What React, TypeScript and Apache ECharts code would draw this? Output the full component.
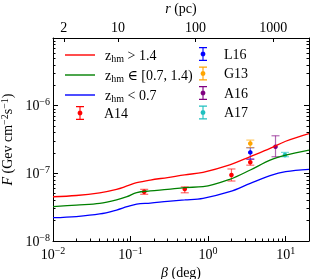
import React, { useEffect, useRef } from 'react';
import * as echarts from 'echarts';

const FONT = '"Liberation Serif", "DejaVu Serif", serif';

// beta (deg) grid shared by the three model curves
const betaGrid = [0.01, 0.02, 0.04, 0.066, 0.09, 0.12, 0.18, 0.3, 0.5, 0.86, 1.9, 3.5, 6.3, 10, 20];
const fHigh = [4.51e-8, 4.7e-8, 5.16e-8, 5.81e-8, 6.5e-8, 7.26e-8, 7.96e-8, 8.67e-8, 9.5e-8, 1.035e-7, 1.33e-7, 1.77e-7, 2.34e-7, 2.98e-7, 3.85e-7];
const fMid = [3.21e-8, 3.4e-8, 3.6e-8, 4.04e-8, 4.51e-8, 5.2e-8, 5.5e-8, 5.8e-8, 6.17e-8, 6.34e-8, 8.15e-8, 1.12e-7, 1.57e-7, 1.86e-7, 2.21e-7];
const fLow = [2.21e-8, 2.3e-8, 2.51e-8, 2.87e-8, 3.21e-8, 3.52e-8, 3.64e-8, 3.85e-8, 4.04e-8, 4.28e-8, 5.35e-8, 7.11e-8, 9.23e-8, 1.057e-7, 1.145e-7];

// measurements: beta, value, lower, upper
const a14Beta = [0.15, 0.5, 2.0, 3.5];
const a14F = [5.34e-8, 5.86e-8, 9.44e-8, 1.46e-7];
const a14Lo = [4.9e-8, 5.16e-8, 7.7e-8, 1.32e-7];
const a14Hi = [5.8e-8, 6.3e-8, 1.16e-7, 1.62e-7];

const l16Beta = [3.5];
const l16F = [2.04e-7];
const l16Lo = [1.62e-7];
const l16Hi = [2.39e-7];

const g13Beta = [3.5];
const g13F = [2.77e-7];
const g13Lo = [2.4e-7];
const g13Hi = [3.1e-7];

const a16Beta = [7.4];
const a16F = [2.47e-7];
const a16Lo = [1.76e-7];
const a16Hi = [3.59e-7];

const a17Beta = [9.8];
const a17F = [1.86e-7];
const a17Lo = [1.76e-7];
const a17Hi = [2.04e-7];

// axes
const betaMin = 0.01;
const betaMax = 20;
const fMin = 1e-8;
const fMax = 1e-5;
const bottomDecades = [-2, -1, 0, 1];
const leftDecades = [-8, -7, -6];
const topTickLabels = [2, 10, 100, 1000];
const PC_PER_DEG = (8300 * Math.PI) / 180;

const lg = Math.log10;

function minorTicks(lo: number, hi: number): number[] {
  const out: number[] = [];
  for (let n = Math.floor(lo); n <= Math.ceil(hi); n++) {
    for (let k = 2; k <= 9; k++) {
      const v = lg(k) + n;
      if (v > lo && v < hi) out.push(v);
    }
  }
  return out;
}

const supFmt = (v: number) => {
  const n = Math.round(v);
  return '10{sup|' + (n < 0 ? '\u2212' + -n : String(n)) + '}';
};

const ERR_ICON =
  'path://M1,0H9V1.2H1Z M4.45,0H5.55V14H4.45Z M1,12.8H9V14H1Z M5,4.6A2.4,2.4 0 1 1 4.999,4.6Z';
const LINE_ICON = 'path://M0,0H30V1.4H0Z';

const makeErr = (name: string, color: string, b: number[], f: number[], lo: number[], hi: number[]) => ({
  name,
  type: 'custom',
  xAxisIndex: 0,
  yAxisIndex: 0,
  itemStyle: { color },
  encode: { x: 0, y: 1 },
  data: b.map((bb, i) => [lg(bb), lg(f[i]), lg(lo[i]), lg(hi[i])]),
  renderItem: (params: any, api: any) => {
    const p = api.coord([api.value(0), api.value(1)]);
    const pl = api.coord([api.value(0), api.value(2)]);
    const ph = api.coord([api.value(0), api.value(3)]);
    const w = 4;
    const st = { stroke: color, lineWidth: 1.2, opacity: 0.6 };
    return {
      type: 'group',
      children: [
        { type: 'line', shape: { x1: p[0], y1: ph[1], x2: p[0], y2: pl[1] }, style: st },
        { type: 'line', shape: { x1: p[0] - w, y1: ph[1], x2: p[0] + w, y2: ph[1] }, style: st },
        { type: 'line', shape: { x1: p[0] - w, y1: pl[1], x2: p[0] + w, y2: pl[1] }, style: st },
        { type: 'circle', shape: { cx: p[0], cy: p[1], r: 2.3 }, style: { fill: color } },
      ],
    };
  },
});

const makeLine = (name: string, color: string, f: number[]) => ({
  name,
  type: 'line',
  xAxisIndex: 0,
  yAxisIndex: 0,
  smooth: 0.35,
  symbol: 'none',
  lineStyle: { color, width: 1.3 },
  itemStyle: { color },
  data: betaGrid.map((b, i) => [lg(b), lg(f[i])]),
});

export default function App() {
  const ref = useRef<HTMLDivElement>(null);
  useEffect(() => {
    if (!ref.current) return;
    const chart = echarts.init(ref.current, null, { renderer: 'svg' });
    const xMin = lg(betaMin);
    const xMax = lg(betaMax);
    const yMin = lg(fMin);
    const yMax = lg(fMax);
    const axisCol = '#000';
    const tickRich = {
      sup: { fontSize: 10, fontFamily: FONT, color: '#000', padding: [0, 0, 8, 0] },
    };
    const legendRich = {
      g: { width: 5, fontFamily: FONT, fontSize: 14, lineHeight: 16 },
      g2: { width: 11, fontFamily: FONT, fontSize: 14, lineHeight: 16 },
      g3: { width: 14, fontFamily: FONT, fontSize: 14, lineHeight: 16 },
      sub: { fontSize: 10, lineHeight: 10, fontFamily: FONT, color: '#000', verticalAlign: 'bottom' },
    };
    const lineNames: Record<string, string> = {
      'zhm>1.4': '{g| }z{sub|hm} > 1.4',
      'zhm∈[0.7,1.4)': '{g| }z{sub|hm} \u2208 [0.7, 1.4)',
      'zhm<0.7': '{g| }z{sub|hm} < 0.7',
    };
    const legendText = { fontFamily: FONT, fontSize: 14, color: '#000', lineHeight: 16 };
    const hidden = { show: false };
    const line = { onZero: false, lineStyle: { color: axisCol, width: 1 } };
    chart.setOption({
      animation: false,
      grid: { left: 53, right: 6, top: 38, bottom: 38, containLabel: false, outerBoundsMode: 'none' },
      xAxis: [
        {
          type: 'value', position: 'bottom', min: xMin, max: xMax,
          axisLine: line,
          axisTick: { inside: true, length: 5, customValues: bottomDecades, lineStyle: { color: axisCol } },
          axisLabel: { customValues: bottomDecades, formatter: supFmt, fontFamily: FONT, fontSize: 14, color: '#000', margin: 4, rich: tickRich },
          splitLine: hidden,
          name: '{it|\u03b2} (deg)', nameLocation: 'middle', nameGap: 17,
          nameTextStyle: { fontFamily: FONT, fontSize: 14, color: '#000', rich: { it: { fontStyle: 'italic', fontFamily: FONT, fontSize: 14, color: '#000' } } },
        },
        {
          type: 'value', position: 'bottom', min: xMin, max: xMax,
          axisLine: { show: false, onZero: false }, axisLabel: hidden, splitLine: hidden,
          axisTick: { inside: true, length: 2.5, customValues: minorTicks(xMin, xMax), lineStyle: { color: axisCol } },
        },
        {
          type: 'value', position: 'top', min: lg(betaMin * PC_PER_DEG), max: lg(betaMax * PC_PER_DEG),
          axisLine: line,
          axisTick: { inside: true, length: 4, customValues: topTickLabels.map(lg), lineStyle: { color: axisCol } },
          axisLabel: { customValues: topTickLabels.map(lg), formatter: (v: number) => String(Math.round(Math.pow(10, v))), fontFamily: FONT, fontSize: 14, color: '#000', margin: 4 },
          splitLine: hidden,
          name: '{it|r} (pc)', nameLocation: 'middle', nameGap: 18,
          nameTextStyle: { fontFamily: FONT, fontSize: 14, color: '#000', rich: { it: { fontStyle: 'italic', fontFamily: FONT, fontSize: 14, color: '#000' } } },
        },
      ],
      yAxis: [
        {
          type: 'value', position: 'left', min: yMin, max: yMax,
          axisLine: { show: true, ...line },
          axisTick: { show: true, inside: true, length: 5, customValues: leftDecades, lineStyle: { color: axisCol } },
          axisLabel: { customValues: leftDecades, formatter: supFmt, fontFamily: FONT, fontSize: 14, color: '#000', margin: 3, rich: tickRich },
          splitLine: hidden,
          name: '{it|F} (Gev cm{sup|\u22122}s{sup|\u22121})', nameLocation: 'middle', nameGap: 24,
          nameTextStyle: {
            fontFamily: FONT, fontSize: 14, color: '#000',
            rich: {
              it: { fontStyle: 'italic', fontFamily: FONT, fontSize: 14, color: '#000' },
              sup: { fontSize: 10, fontFamily: FONT, color: '#000', padding: [0, 0, 6, 0] },
            },
          },
        },
        {
          type: 'value', position: 'left', min: yMin, max: yMax,
          axisLine: { show: false, onZero: false }, axisLabel: hidden, splitLine: hidden,
          axisTick: { show: true, inside: true, length: 2.5, customValues: minorTicks(yMin, yMax), lineStyle: { color: axisCol } },
        },
        {
          type: 'value', position: 'right', min: yMin, max: yMax,
          axisLine: { show: true, ...line },
          axisLabel: hidden, splitLine: hidden,
          axisTick: { show: true, inside: true, length: 5, customValues: leftDecades, lineStyle: { color: axisCol } },
        },
        {
          type: 'value', position: 'right', min: yMin, max: yMax,
          axisLine: { show: false, onZero: false }, axisLabel: hidden, splitLine: hidden,
          axisTick: { show: true, inside: true, length: 2.5, customValues: minorTicks(yMin, yMax), lineStyle: { color: axisCol } },
        },
      ],
      legend: [
        {
          data: Object.keys(lineNames).map((n) => ({ name: n, icon: LINE_ICON })), orient: 'vertical', left: 60, top: 42,
          itemWidth: 30, itemHeight: 14, itemGap: 4,
          formatter: (n: string) => lineNames[n] || n,
          textStyle: { ...legendText, rich: legendRich },
        },
        {
          data: [{ name: 'A14', icon: ERR_ICON }], orient: 'vertical', left: 71, top: 100,
          itemWidth: 10, itemHeight: 14, itemGap: 4,
          formatter: (n: string) => '{g3| }' + n,
          textStyle: { ...legendText, rich: legendRich },
        },
        {
          data: ['L16', 'G13', 'A16', 'A17'].map((n) => ({ name: n, icon: ERR_ICON })),
          orient: 'vertical', left: 194, top: 41,
          itemWidth: 10, itemHeight: 14, itemGap: 3.5,
          formatter: (n: string) => '{g2| }' + n,
          textStyle: { ...legendText, rich: legendRich },
        },
      ],
      series: [
        makeLine('zhm>1.4', '#ff0000', fHigh),
        makeLine('zhm∈[0.7,1.4)', '#008000', fMid),
        makeLine('zhm<0.7', '#0000ff', fLow),
        makeErr('A14', '#ff0000', a14Beta, a14F, a14Lo, a14Hi),
        makeErr('L16', '#0000ff', l16Beta, l16F, l16Lo, l16Hi),
        makeErr('G13', '#ffa500', g13Beta, g13F, g13Lo, g13Hi),
        makeErr('A16', '#800080', a16Beta, a16F, a16Lo, a16Hi),
        makeErr('A17', '#20c0c0', a17Beta, a17F, a17Lo, a17Hi),
      ],
    });
    return () => chart.dispose();
  }, []);
  return <div ref={ref} style={{ position: 'fixed', left: 0, top: 0, width: 315, height: 279 }} />;
}
